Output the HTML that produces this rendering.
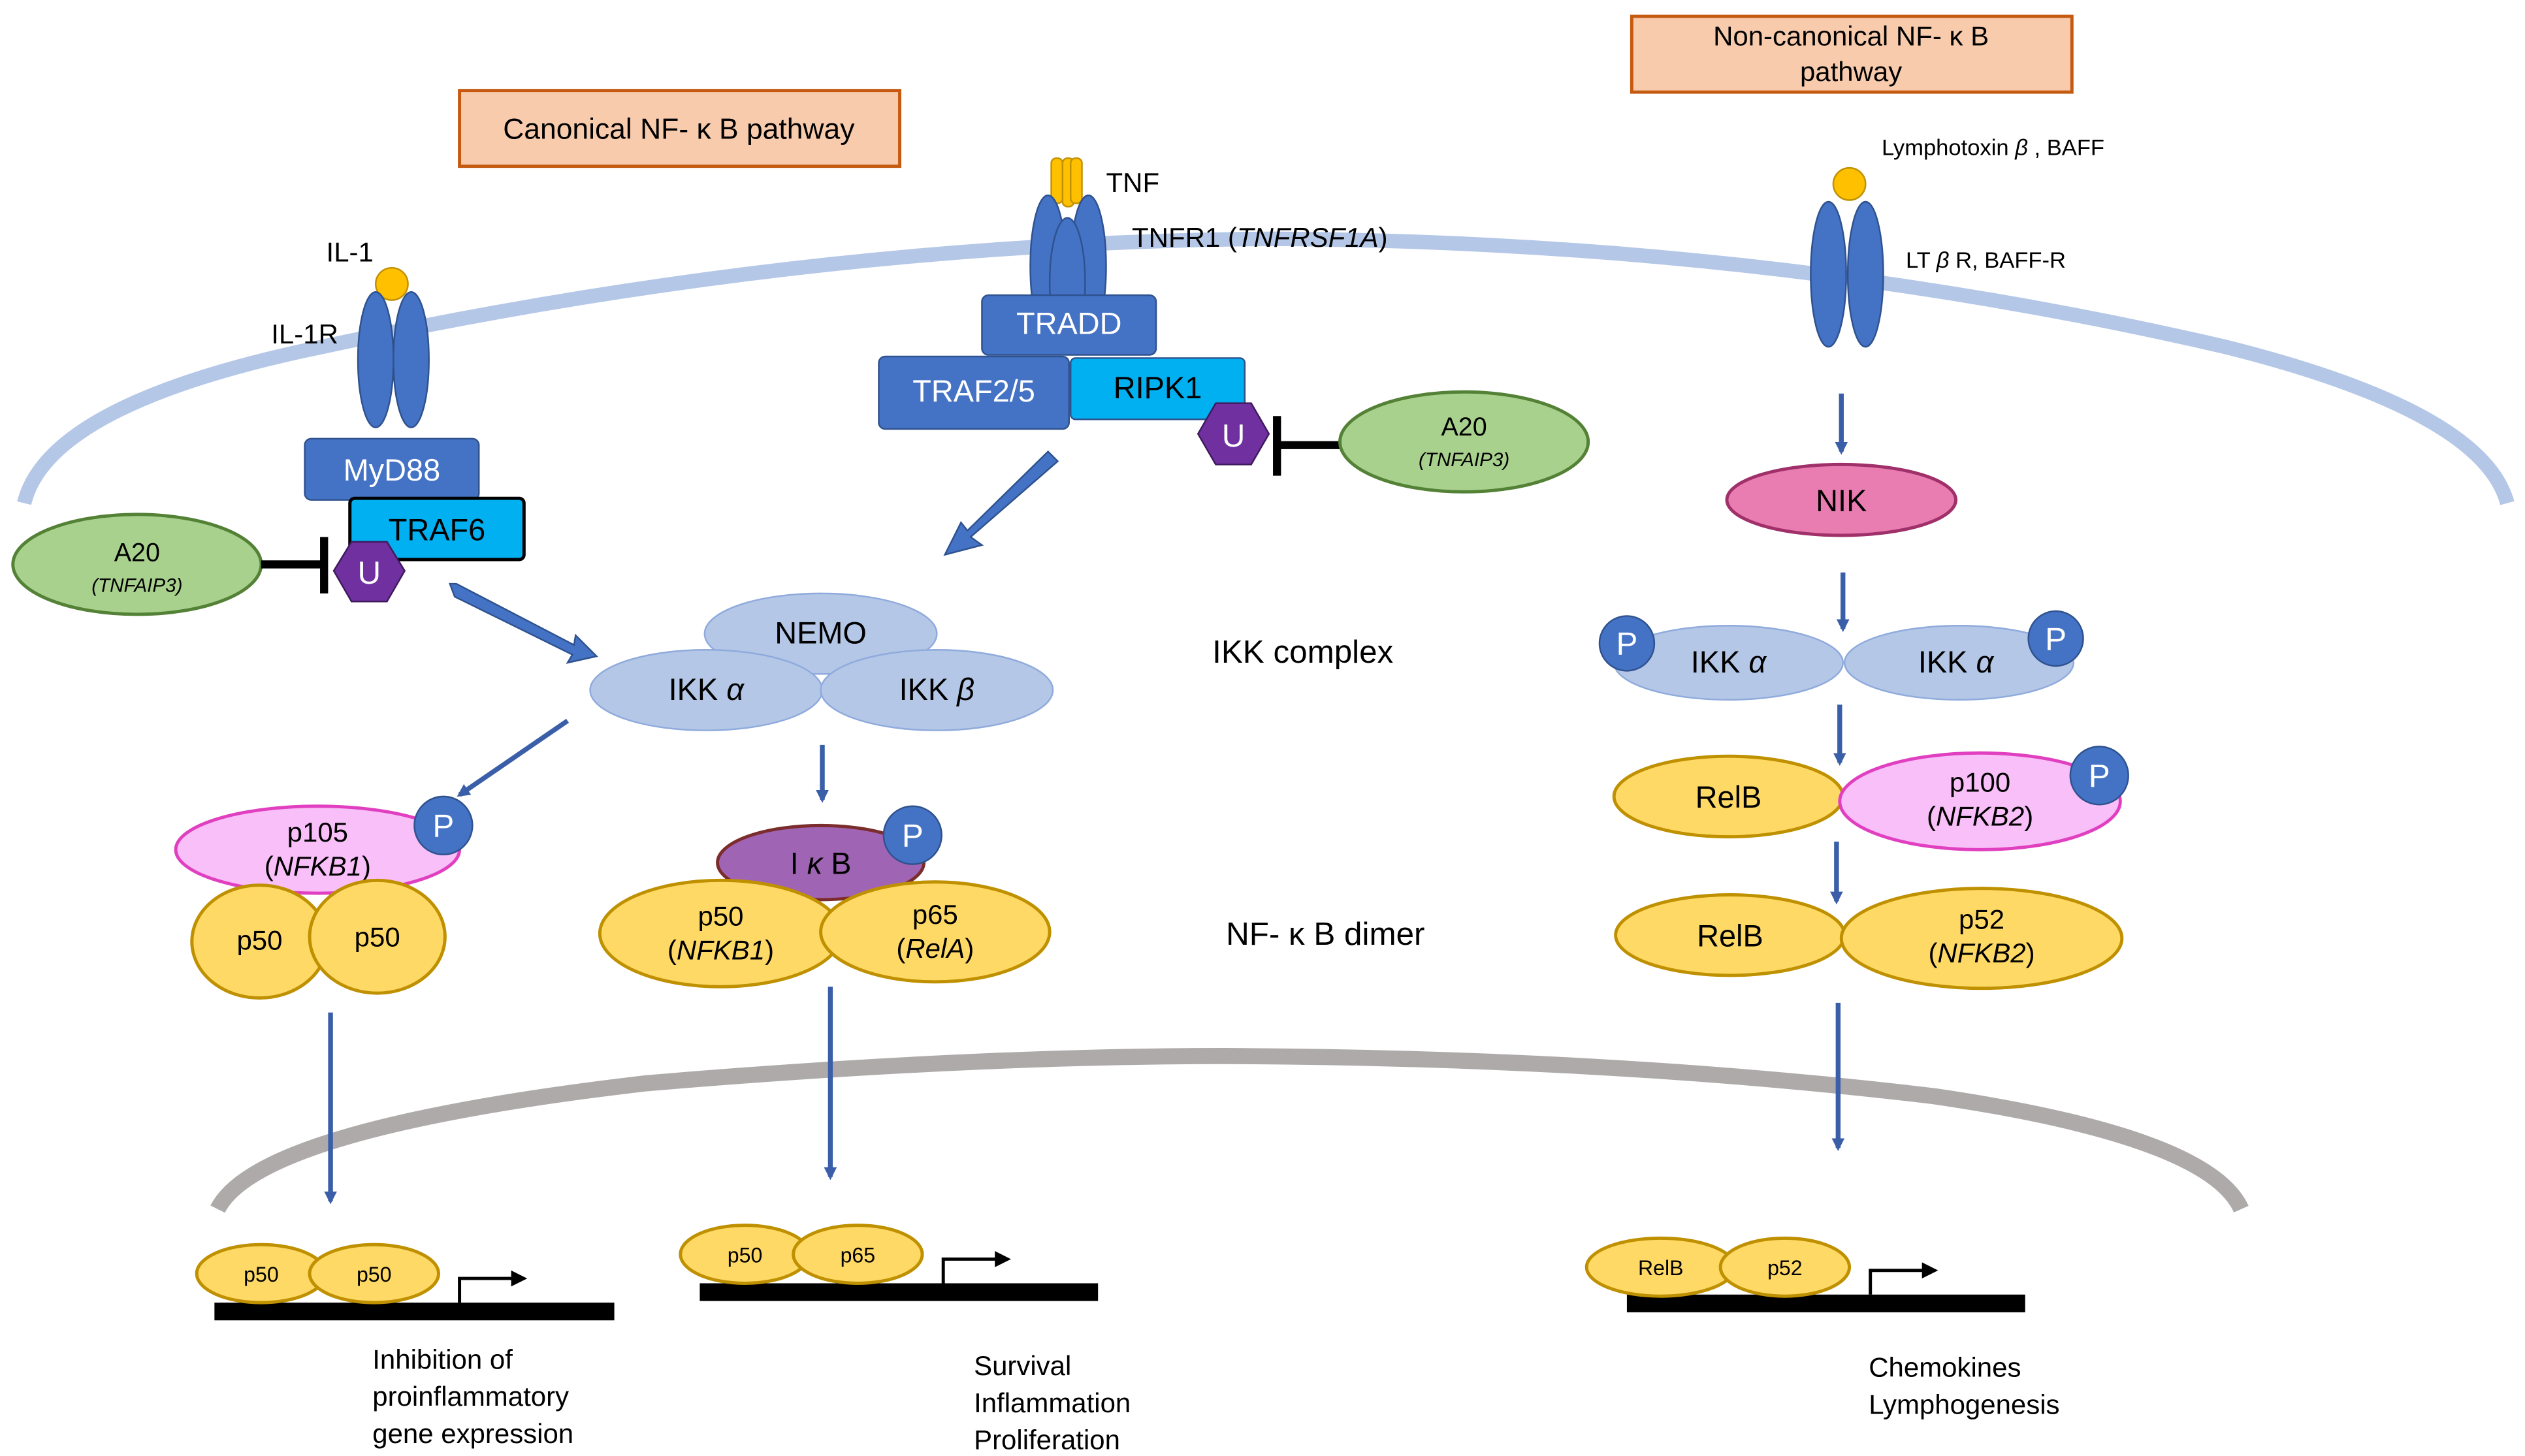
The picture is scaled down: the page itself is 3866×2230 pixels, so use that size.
<!DOCTYPE html>
<html><head><meta charset="utf-8"><style>
html,body{margin:0;padding:0;background:#fff}
svg{display:block}
text{font-family:"Liberation Sans",sans-serif}
</style></head><body>
<svg width="3866" height="2230" viewBox="0 0 1566 903" xmlns="http://www.w3.org/2000/svg">
<defs>
<marker id="ah" markerWidth="8" markerHeight="8" refX="6" refY="4" orient="auto" markerUnits="userSpaceOnUse"><path d="M0,0 L8,4 L0,8 Z" fill="#3a5fa8"/></marker>
<marker id="bk" markerWidth="10" markerHeight="10" refX="8" refY="5" orient="auto" markerUnits="userSpaceOnUse"><path d="M0,0 L10,5 L0,10 Z" fill="#000"/></marker>
</defs>
<rect width="1566" height="903" fill="#fff"/>
<!-- membranes -->
<path d="M15,312 Q30,250 200,215 Q500,150 790,148 Q1100,150 1380,215 Q1540,255 1555,312" fill="none" stroke="#b4c7e7" stroke-width="9"/>
<path d="M135,750 Q160,700 400,672 Q600,655 760,655 Q1000,656 1200,680 Q1370,705 1390,750" fill="none" stroke="#aeaaaa" stroke-width="10"/>
<!-- title boxes -->
<rect x="285" y="56" width="273" height="47" fill="#f8cbad" stroke="#c55a11" stroke-width="2"/>
<text x="421" y="86" font-size="18" text-anchor="middle">Canonical NF- κ B pathway</text>
<rect x="1012" y="10" width="273" height="47" fill="#f8cbad" stroke="#c55a11" stroke-width="2"/>
<text x="1148" y="28" font-size="17" text-anchor="middle">Non-canonical NF- κ B</text>
<text x="1148" y="50" font-size="17" text-anchor="middle">pathway</text>
<!-- IL-1R -->
<text x="217" y="162" font-size="17" text-anchor="middle">IL-1</text>
<text x="189" y="213" font-size="17" text-anchor="middle">IL-1R</text>
<ellipse cx="243" cy="176" rx="10" ry="10" fill="#ffc000" stroke="#c09000"/>
<ellipse cx="233" cy="223" rx="11" ry="42" fill="#4472c4" stroke="#2f528f"/>
<ellipse cx="255" cy="223" rx="11" ry="42" fill="#4472c4" stroke="#2f528f"/>
<rect x="189" y="272" width="108" height="38" rx="4" fill="#4472c4" stroke="#2f528f"/>
<text x="243" y="298" font-size="19" fill="#fff" text-anchor="middle">MyD88</text>
<rect x="217" y="309" width="108" height="38" rx="3" fill="#00b0f0" stroke="#000" stroke-width="2"/>
<text x="271" y="335" font-size="19" text-anchor="middle">TRAF6</text>
<ellipse cx="85" cy="350" rx="77" ry="31" fill="#a9d18e" stroke="#538135" stroke-width="2"/>
<text x="85" y="348" font-size="16" text-anchor="middle">A20</text>
<text x="85" y="367" font-size="12" font-style="italic" text-anchor="middle">(TNFAIP3)</text>
<line x1="162" y1="350" x2="200" y2="350" stroke="#000" stroke-width="5"/>
<line x1="201" y1="333" x2="201" y2="368" stroke="#000" stroke-width="5"/>
<polygon points="218,336 240,336 251,354 240,373 218,373 207,354" fill="#7030a0" stroke="#3e1a5c"/>
<text x="229" y="362" font-size="20" fill="#fff" text-anchor="middle">U</text>
<!-- TNF -->
<rect x="652" y="98" width="7" height="28" rx="3" fill="#ffc000" stroke="#c09000"/>
<rect x="659" y="98" width="7" height="30" rx="3" fill="#ffc000" stroke="#c09000"/>
<rect x="664" y="98" width="7" height="28" rx="3" fill="#ffc000" stroke="#c09000"/>
<text x="686" y="119" font-size="17">TNF</text>
<text x="702" y="153" font-size="17">TNFR1 (<tspan font-style="italic">TNFRSF1A</tspan>)</text>
<ellipse cx="650" cy="165" rx="11" ry="44" fill="#4472c4" stroke="#2f528f"/>
<ellipse cx="675" cy="165" rx="11" ry="44" fill="#4472c4" stroke="#2f528f"/>
<ellipse cx="662" cy="175" rx="11" ry="40" fill="#4472c4" stroke="#2f528f"/>
<rect x="609" y="183" width="108" height="37" rx="4" fill="#4472c4" stroke="#2f528f"/>
<text x="663" y="207" font-size="19" fill="#fff" text-anchor="middle">TRADD</text>
<rect x="545" y="221" width="118" height="45" rx="4" fill="#4472c4" stroke="#2f528f"/>
<text x="604" y="249" font-size="19" fill="#fff" text-anchor="middle">TRAF2/5</text>
<rect x="664" y="222" width="108" height="38" rx="3" fill="#00b0f0" stroke="#2f528f"/>
<text x="718" y="247" font-size="19" text-anchor="middle">RIPK1</text>
<polygon points="754,250 776,250 787,269 776,288 754,288 743,269" fill="#7030a0" stroke="#3e1a5c"/>
<text x="765" y="277" font-size="20" fill="#fff" text-anchor="middle">U</text>
<line x1="792" y1="276" x2="831" y2="276" stroke="#000" stroke-width="5"/>
<line x1="792" y1="258" x2="792" y2="295" stroke="#000" stroke-width="5"/>
<ellipse cx="908" cy="274" rx="77" ry="31" fill="#a9d18e" stroke="#538135" stroke-width="2"/>
<text x="908" y="270" font-size="16" text-anchor="middle">A20</text>
<text x="908" y="289" font-size="12" font-style="italic" text-anchor="middle">(TNFAIP3)</text>
<!-- big arrows -->
<polygon points="656,286 602,333 609,338 586,344 596,324 600,329 650,280" fill="#4472c4" stroke="#2f528f"/>
<polygon points="279,362 282,370 355,406 352,411 370,407 357,394 356,400 283,362" fill="#4472c4" stroke="#2f528f"/>
<!-- IKK complex -->
<ellipse cx="509" cy="393" rx="72" ry="25" fill="#b4c7e7" stroke="#8faadc"/>
<text x="509" y="399" font-size="19" text-anchor="middle">NEMO</text>
<ellipse cx="438" cy="428" rx="72" ry="25" fill="#b4c7e7" stroke="#8faadc"/>
<text x="438" y="434" font-size="19" text-anchor="middle">IKK <tspan font-style="italic">α</tspan></text>
<ellipse cx="581" cy="428" rx="72" ry="25" fill="#b4c7e7" stroke="#8faadc"/>
<text x="581" y="434" font-size="19" text-anchor="middle">IKK <tspan font-style="italic">β</tspan></text>
<text x="808" y="411" font-size="20" text-anchor="middle">IKK complex</text>
<text x="822" y="586" font-size="20" text-anchor="middle">NF- κ B dimer</text>
<!-- arrows thin -->
<g stroke="#3a5fa8" stroke-width="3" fill="none" marker-end="url(#ah)">
<line x1="352" y1="447" x2="285" y2="493"/>
<line x1="510" y1="462" x2="510" y2="496"/>
<line x1="205" y1="628" x2="205" y2="745"/>
<line x1="515" y1="612" x2="515" y2="730"/>
<line x1="1142" y1="244" x2="1142" y2="280"/>
<line x1="1143" y1="355" x2="1143" y2="390"/>
<line x1="1141" y1="437" x2="1141" y2="473"/>
<line x1="1139" y1="522" x2="1139" y2="559"/>
<line x1="1140" y1="622" x2="1140" y2="712"/>
</g>
<!-- p105 -->
<ellipse cx="197" cy="527" rx="88" ry="27" fill="#f8bff8" stroke="#e040c0" stroke-width="2"/>
<text x="197" y="522" font-size="17" text-anchor="middle">p105</text>
<text x="197" y="543" font-size="17" text-anchor="middle">(<tspan font-style="italic">NFKB1</tspan>)</text>
<circle cx="275" cy="512" r="18" fill="#4472c4" stroke="#2f528f"/>
<text x="275" y="519" font-size="20" fill="#fff" text-anchor="middle">P</text>
<ellipse cx="161" cy="584" rx="42" ry="35" fill="#ffd966" stroke="#bf9000" stroke-width="2"/>
<ellipse cx="234" cy="581" rx="42" ry="35" fill="#ffd966" stroke="#bf9000" stroke-width="2"/>
<text x="161" y="589" font-size="17" text-anchor="middle">p50</text>
<text x="234" y="587" font-size="17" text-anchor="middle">p50</text>
<!-- IkB -->
<ellipse cx="509" cy="535" rx="64" ry="23" fill="#a064b4" stroke="#7b2c2c" stroke-width="2"/>
<text x="509" y="542" font-size="19" text-anchor="middle">I <tspan font-style="italic">κ</tspan> B</text>
<circle cx="566" cy="518" r="18" fill="#4472c4" stroke="#2f528f"/>
<text x="566" y="525" font-size="20" fill="#fff" text-anchor="middle">P</text>
<ellipse cx="447" cy="579" rx="75" ry="33" fill="#ffd966" stroke="#bf9000" stroke-width="2"/>
<ellipse cx="580" cy="578" rx="71" ry="31" fill="#ffd966" stroke="#bf9000" stroke-width="2"/>
<text x="447" y="574" font-size="17" text-anchor="middle">p50</text>
<text x="447" y="595" font-size="17" text-anchor="middle">(<tspan font-style="italic">NFKB1</tspan>)</text>
<text x="580" y="573" font-size="17" text-anchor="middle">p65</text>
<text x="580" y="594" font-size="17" text-anchor="middle">(<tspan font-style="italic">RelA</tspan>)</text>
<!-- non-canonical -->
<text x="1167" y="96" font-size="14">Lymphotoxin <tspan font-style="italic">β</tspan> , BAFF</text>
<circle cx="1147" cy="114" r="10" fill="#ffc000" stroke="#c09000"/>
<ellipse cx="1134" cy="170" rx="11" ry="45" fill="#4472c4" stroke="#2f528f"/>
<ellipse cx="1157" cy="170" rx="11" ry="45" fill="#4472c4" stroke="#2f528f"/>
<text x="1182" y="166" font-size="14">LT <tspan font-style="italic">β</tspan> R, BAFF-R</text>
<ellipse cx="1142" cy="310" rx="71" ry="22" fill="#e97cb0" stroke="#a0306a" stroke-width="2"/>
<text x="1142" y="317" font-size="19" text-anchor="middle">NIK</text>
<ellipse cx="1072" cy="411" rx="71" ry="23" fill="#b4c7e7" stroke="#8faadc"/>
<ellipse cx="1215" cy="411" rx="71" ry="23" fill="#b4c7e7" stroke="#8faadc"/>
<text x="1072" y="417" font-size="19" text-anchor="middle">IKK <tspan font-style="italic">α</tspan></text>
<text x="1213" y="417" font-size="19" text-anchor="middle">IKK <tspan font-style="italic">α</tspan></text>
<circle cx="1009" cy="399" r="17" fill="#4472c4" stroke="#2f528f"/>
<text x="1009" y="406" font-size="20" fill="#fff" text-anchor="middle">P</text>
<circle cx="1275" cy="396" r="17" fill="#4472c4" stroke="#2f528f"/>
<text x="1275" y="403" font-size="20" fill="#fff" text-anchor="middle">P</text>
<ellipse cx="1072" cy="494" rx="71" ry="25" fill="#ffd966" stroke="#bf9000" stroke-width="2"/>
<text x="1072" y="501" font-size="19" text-anchor="middle">RelB</text>
<ellipse cx="1228" cy="497" rx="87" ry="30" fill="#f8bff8" stroke="#e040c0" stroke-width="2"/>
<text x="1228" y="491" font-size="17" text-anchor="middle">p100</text>
<text x="1228" y="512" font-size="17" text-anchor="middle">(<tspan font-style="italic">NFKB2</tspan>)</text>
<circle cx="1302" cy="481" r="18" fill="#4472c4" stroke="#2f528f"/>
<text x="1302" y="488" font-size="20" fill="#fff" text-anchor="middle">P</text>
<ellipse cx="1073" cy="580" rx="71" ry="25" fill="#ffd966" stroke="#bf9000" stroke-width="2"/>
<text x="1073" y="587" font-size="19" text-anchor="middle">RelB</text>
<ellipse cx="1229" cy="582" rx="87" ry="31" fill="#ffd966" stroke="#bf9000" stroke-width="2"/>
<text x="1229" y="576" font-size="17" text-anchor="middle">p52</text>
<text x="1229" y="597" font-size="17" text-anchor="middle">(<tspan font-style="italic">NFKB2</tspan>)</text>
<!-- DNA -->
<rect x="133" y="808" width="248" height="11" fill="#000"/>
<ellipse cx="162" cy="790" rx="40" ry="18" fill="#ffd966" stroke="#bf9000" stroke-width="2"/>
<ellipse cx="232" cy="790" rx="40" ry="18" fill="#ffd966" stroke="#bf9000" stroke-width="2"/>
<text x="162" y="795" font-size="13" text-anchor="middle">p50</text>
<text x="232" y="795" font-size="13" text-anchor="middle">p50</text>
<path d="M285,808 V793 H325" fill="none" stroke="#000" stroke-width="2" marker-end="url(#bk)"/>
<rect x="434" y="796" width="247" height="11" fill="#000"/>
<ellipse cx="462" cy="778" rx="40" ry="18" fill="#ffd966" stroke="#bf9000" stroke-width="2"/>
<ellipse cx="532" cy="778" rx="40" ry="18" fill="#ffd966" stroke="#bf9000" stroke-width="2"/>
<text x="462" y="783" font-size="13" text-anchor="middle">p50</text>
<text x="532" y="783" font-size="13" text-anchor="middle">p65</text>
<path d="M585,796 V781 H625" fill="none" stroke="#000" stroke-width="2" marker-end="url(#bk)"/>
<rect x="1009" y="803" width="247" height="11" fill="#000"/>
<ellipse cx="1030" cy="786" rx="46" ry="18" fill="#ffd966" stroke="#bf9000" stroke-width="2"/>
<ellipse cx="1107" cy="786" rx="40" ry="18" fill="#ffd966" stroke="#bf9000" stroke-width="2"/>
<text x="1030" y="791" font-size="13" text-anchor="middle">RelB</text>
<text x="1107" y="791" font-size="13" text-anchor="middle">p52</text>
<path d="M1160,803 V788 H1200" fill="none" stroke="#000" stroke-width="2" marker-end="url(#bk)"/>
<!-- outcome text -->
<g font-size="17">
<text x="231" y="849">Inhibition of</text>
<text x="231" y="872">proinflammatory</text>
<text x="231" y="895">gene expression</text>
<text x="604" y="853">Survival</text>
<text x="604" y="876">Inflammation</text>
<text x="604" y="899">Proliferation</text>
<text x="1159" y="854">Chemokines</text>
<text x="1159" y="877">Lymphogenesis</text>
</g>
</svg>
</body></html>
